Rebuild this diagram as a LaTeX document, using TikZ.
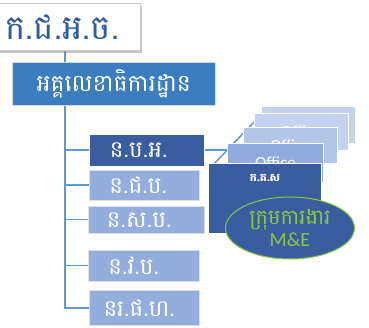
\documentclass[tikz,border=0pt]{standalone}
\usepackage{fontspec}
\newfontfamily\kh[Script=Khmer]{Battambang}
\newfontfamily\carl{Carlito}
\usetikzlibrary{shapes.geometric,shadows,backgrounds}
\definecolor{titleblue}{HTML}{2F5C9C}
\definecolor{secblue}{HTML}{3C7DC0}
\definecolor{darkblue}{HTML}{3A5DA0}
\definecolor{lightblue}{HTML}{93AEDC}
\definecolor{ofcA}{HTML}{C3D2EE}
\definecolor{ofcB}{HTML}{B4C6E8}
\definecolor{ofcC}{HTML}{8FAADC}
\definecolor{linec}{HTML}{5B9BD5}
\definecolor{megreen}{HTML}{8DC640}
\begin{document}
\begin{tikzpicture}[x=1pt,y=-1pt,
  box/.style={rectangle, inner sep=0pt, anchor=north west, text=white},
  topbox/.style={box, fill=white, draw=black!20, line width=0.6pt, text=titleblue,
     drop shadow={shadow xshift=2pt, shadow yshift=-3pt, fill=black!45, opacity=.5}},
  secbox/.style={box, fill=secblue, draw=black!15, line width=0.5pt},
  darkbox/.style={box, fill=darkblue, draw=white, line width=0.5pt},
  lightbox/.style={box, fill=lightblue, draw=black!12, line width=0.5pt},
  ofcbox/.style={box, draw=white, line width=1pt, font=\carl\fontsize{17}{17}\selectfont},
  conn/.style={draw=linec, line width=1.5pt},
  kt/.style={font=\kh\fontsize{#1}{#1}\selectfont}]
\useasboundingbox (0,0) rectangle (369,328);

\node[topbox, kt=34, minimum width=150pt, minimum height=47pt] (top) at (-10,3) {\hspace*{-6pt}ក.ជ.អ.ច.};
\node[secbox, kt=23.5, minimum width=203pt, minimum height=43pt] (sec) at (12,62) {អគ្គលេខាធិការដ្ឋាន};

\node[darkbox, kt=23, minimum width=115pt, minimum height=32pt] (b1) at (89,134) {\hspace*{-16pt}ន.ប.អ.};
\node[lightbox, kt=23, minimum width=110pt, minimum height=30pt] (b2) at (89,170) {\hspace*{-12pt}ន.ជ.ប.};
\node[lightbox, kt=23, minimum width=116pt, minimum height=27pt] (b3) at (88,206) {\hspace*{-14pt}ន.ស.ប.};
\node[lightbox, kt=23, minimum width=111pt, minimum height=31pt] (b4) at (88,250) {\hspace*{-20pt}ន.វ.ប.};
\node[lightbox, kt=23, minimum width=110pt, minimum height=35pt] (b5) at (89,290) {\hspace*{-10pt}នរ.ផ.ហ.};

\node[ofcbox, fill=ofcA, minimum width=94pt, minimum height=37pt] (o1) at (261,106) {Office};
\node[ofcbox, fill=ofcA, minimum width=94pt, minimum height=37pt] (o2) at (254,113) {Office};
\node[ofcbox, fill=ofcB, minimum width=94pt, minimum height=36pt] (o3) at (243,127) {Office};
\node[ofcbox, fill=ofcC, minimum width=96pt, minimum height=39pt] (o4) at (227,143) {Office};
\node[darkbox, minimum width=113pt, minimum height=70pt] (kks) at (208,163) {};
\node[text=white, font=\kh\bfseries\fontsize{11}{11}\selectfont] (kkst) at (265,178) {ក.គ.ស};
\node[ellipse, fill=darkblue, draw=megreen, line width=1pt, minimum width=129pt, minimum height=62pt,
      inner sep=0pt, text=megreen, align=center] (me) at (290,228)
      {\kh\fontsize{21}{21}\selectfont ក្រុមការងារ\\[2pt]{\carl\fontsize{20}{20}\selectfont M\&E}};

\coordinate (sp) at (65,0);
\coordinate (dj) at (213,165);
\coordinate (dk) at (256,120);
\begin{scope}[on background layer]
\fill[white] (0,0) rectangle (369,328);
\draw[conn] (top.south -| sp) -- (sec.north -| sp);
\draw[conn] (sec.south -| sp) -- (sp |- b5.west) -- (b5.west);
\draw[conn] (sp |- b1.west) -- (b1.west);
\draw[conn] (sp |- b2.west) -- (b2.west);
\draw[conn] (sp |- b3.west) -- (b3.west);
\draw[conn] (sp |- b4.west) -- (b4.west);
\draw[conn] (b1.east) -- (o4.west |- b1.east);
\draw[conn] (dj) -- (dk);
\end{scope}
\end{tikzpicture}
\end{document}
